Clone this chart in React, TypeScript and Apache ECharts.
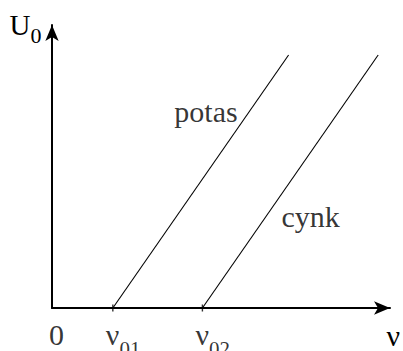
import React, { useEffect, useRef } from 'react';
import * as echarts from 'echarts';

// ---- data (arbitrary units) ----
const seriesNames = ['potas', 'cynk'];
const thresholdFreq = [1.8, 4.45]; // ν01, ν02 where U0 = 0
const endFreq = [7.0, 9.65];
const endVoltage = [8.94, 8.94];
const tickValues = [0, 1.8, 4.45];
const tickLabels = ['0', 'ν01', 'ν02'];
const xAxisName = 'ν';
const yAxisName = 'U0';
const X_MAX = 10;
const Y_MAX = 10;

const FONT = 'Liberation Serif, Times New Roman, serif';

function richText(label: string): string {
  if (label.length <= 1) return `{m|${label}}`;
  return `{m|${label[0]}}{s|${label.slice(1)}}`;
}

export default function App() {
  const ref = useRef<HTMLDivElement>(null);

  useEffect(() => {
    if (!ref.current) return;
    const chart = echarts.init(ref.current, null, { renderer: 'svg' });

    const lineSeries = seriesNames.map((name, i) => ({
      name,
      type: 'line',
      data: [
        [thresholdFreq[i], 0],
        [endFreq[i], endVoltage[i]],
      ],
      showSymbol: false,
      symbol: 'none',
      silent: true,
      lineStyle: { color: '#000', width: 1.1 },
      z: 3,
    }));

    // label anchors: points along each line (fraction t of the way up)
    const labelT = [0.75, 1 / 3];
    const labelStyle = [
      { align: 'right', offset: [-7, -6.4] },
      { align: 'left', offset: [20.5, -6.8] },
    ];
    const curveLabels = {
      type: 'scatter',
      silent: true,
      symbolSize: 1,
      itemStyle: { color: 'rgba(0,0,0,0)' },
      data: seriesNames.map((name, i) => ({
        name,
        value: [
          thresholdFreq[i] + labelT[i] * (endFreq[i] - thresholdFreq[i]),
          labelT[i] * endVoltage[i],
        ],
        label: {
          show: true,
          position: 'inside',
          formatter: name,
          fontFamily: FONT,
          fontSize: 30,
          color: '#000',
          verticalAlign: 'middle',
          ...labelStyle[i],
        },
      })),
      z: 4,
    };

    const tickMarks = {
      type: 'scatter',
      silent: true,
      symbol: 'rect',
      symbolSize: [1.4, 7],
      itemStyle: { color: '#000' },
      data: tickValues.filter((v) => v !== 0).map((v) => [v, 0]),
      z: 5,
    };

    const tickOffsets = [
      [-3, 11],
      [-7, 11],
      [-7, 11],
    ];
    const tickLabelSeries = {
      type: 'scatter',
      silent: true,
      symbolSize: 1,
      itemStyle: { color: 'rgba(0,0,0,0)' },
      data: tickValues.map((v, i) => ({
        value: [v, 0],
        label: {
          show: true,
          position: 'inside',
          align: 'left',
          verticalAlign: 'top',
          offset: tickOffsets[i],
          formatter: richText(tickLabels[i]),
          fontFamily: FONT,
          fontSize: 30,
          rich: {
            m: { fontFamily: FONT, fontSize: 30, color: '#000', verticalAlign: 'top' },
            s: {
              fontFamily: FONT,
              fontSize: 21,
              color: '#000',
              verticalAlign: 'top',
              padding: [19, 0, 0, 0],
            },
          },
        },
      })),
      z: 5,
    };

    chart.setOption({
      animation: false,
      backgroundColor: '#fff',
      textStyle: { fontFamily: FONT },
      grid: { left: 52, right: 7, top: 25, bottom: 43, containLabel: false },
      xAxis: {
        type: 'value',
        min: 0,
        max: X_MAX,
        name: xAxisName,
        nameLocation: 'end',
        nameGap: 10,
        nameTextStyle: {
          fontFamily: FONT,
          fontSize: 30,
          color: '#000',
          align: 'right',
          verticalAlign: 'top',
          padding: [12, 0, 0, 0],
        },
        axisLine: {
          show: true,
          symbol: ['none', 'arrow'],
          symbolSize: [10, 16],
          lineStyle: { color: '#000', width: 2 },
        },
        axisTick: { show: false },
        axisLabel: { show: false },
        splitLine: { show: false },
      },
      yAxis: {
        type: 'value',
        min: 0,
        max: Y_MAX,
        name: richText(yAxisName),
        nameLocation: 'end',
        nameGap: 14.3,
        nameTextStyle: {
          fontFamily: FONT,
          fontSize: 29,
          color: '#000',
          align: 'right',
          verticalAlign: 'top',
          padding: [0, 10.6, 0, 0],
          rich: {
            m: { fontFamily: FONT, fontSize: 29, color: '#000', verticalAlign: 'top' },
            s: {
              fontFamily: FONT,
              fontSize: 22,
              color: '#000',
              verticalAlign: 'top',
              padding: [14, 0, 0, 0],
            },
          },
        },
        axisLine: {
          show: true,
          symbol: ['none', 'arrow'],
          symbolSize: [10, 16],
          lineStyle: { color: '#000', width: 2 },
        },
        axisTick: { show: false },
        axisLabel: { show: false },
        splitLine: { show: false },
      },
      series: [...lineSeries, curveLabels, tickMarks, tickLabelSeries],
    });

    return () => chart.dispose();
  }, []);

  return (
    <div
      ref={ref}
      style={{ position: 'absolute', left: 0, top: 0, width: 403, height: 351 }}
    />
  );
}
